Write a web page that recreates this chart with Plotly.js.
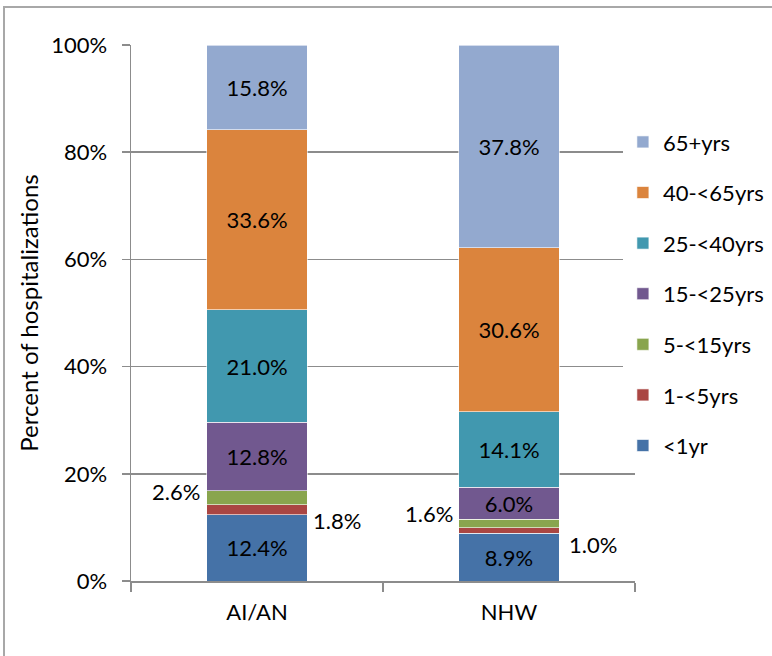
<!DOCTYPE html>
<html>
<head>
<meta charset="utf-8">
<script src="https://cdn.plot.ly/plotly-3.0.1.min.js"></script>
<style>
  html, body { margin: 0; padding: 0; background: #fff; }
  #wrap { position: relative; width: 772px; height: 656px; }
  #chart { width: 772px; height: 656px; }
  #frame { position: absolute; left: 3px; top: 6px; right: -10px; bottom: -10px;
           border-top: 2px solid #A8A8A8; border-left: 2px solid #A8A8A8; pointer-events: none; }
</style>
</head>
<body>
<div id="wrap"><div id="chart"></div><div id="frame"></div></div>
<script>
const categories = ["AI/AN", "NHW"];
const seriesNames = ["<1yr", "1-<5yrs", "5-<15yrs", "15-<25yrs", "25-<40yrs", "40-<65yrs", "65+yrs"];
const lt1yr   = [12.4, 8.9];
const y1to5   = [1.8, 1.0];
const y5to15  = [2.6, 1.6];
const y15to25 = [12.8, 6.0];
const y25to40 = [21.0, 14.1];
const y40to65 = [33.6, 30.6];
const y65plus = [15.8, 37.8];
const yTickVals = [0, 20, 40, 60, 80, 100];
const yTickText = ["0%", "20%", "40%", "60%", "80%", "100%"];

const seriesValues = [lt1yr, y1to5, y5to15, y15to25, y25to40, y40to65, y65plus];
const colors = ["#4572A7", "#AA4643", "#89A54E", "#71588F", "#4198AF", "#DB843D", "#93A9CF"];
const outsideSeries = {1: "right", 2: "left"};
const FONT = "Lato, Carlito, Calibri, sans-serif";

const traces = seriesValues.map((vals, i) => ({
  type: "bar",
  name: seriesNames[i],
  x: categories,
  y: vals,
  legendgroup: "g" + i,
  legendrank: 100 - i,
  marker: { color: colors[i], line: { color: "rgba(255,255,255,0.6)", width: 1 } },
  text: vals.map(v => (i in outsideSeries) ? "" : v.toFixed(1) + "%"),
  textposition: "inside",
  insidetextanchor: "middle",
  constraintext: "none",
  textangle: 0,
  textfont: { family: FONT, size: 22, color: "#000" },
  hoverinfo: "none"
}));

// outside labels for the thin segments
const annotations = [];
const shifts = {
  1: [{xs: 4, ys: -11}, {xs: 8, ys: -14}],
  2: [{xs: -5, ys: 6}, {xs: -4, ys: 10}]
};
categories.forEach((c, ci) => {
  let cum = 0;
  seriesValues.forEach((vals, si) => {
    const mid = cum + vals[ci] / 2;
    cum += vals[ci];
    if (si in outsideSeries) {
      const side = outsideSeries[si];
      annotations.push({
        x: ci + (side === "right" ? 0.198 : -0.198),
        y: mid,
        xref: "x", yref: "y",
        text: vals[ci].toFixed(1) + "%",
        showarrow: false,
        xanchor: side === "right" ? "left" : "right",
        yanchor: "middle",
        xshift: shifts[si][ci].xs,
        yshift: shifts[si][ci].ys,
        font: { family: FONT, size: 22, color: "#000" }
      });
    }
  });
});

const layout = {
  width: 772, height: 656,
  margin: { l: 131, r: 137, t: 45, b: 75, autoexpand: false },
  paper_bgcolor: "#fff", plot_bgcolor: "#fff",
  barmode: "stack",
  bargap: 0.603,
  font: { family: FONT, size: 22, color: "#000" },
  showlegend: true,
  legend: {
    traceorder: "grouped",
    tracegroupgap: 19,
    x: 0.976, xanchor: "left", y: 0.858, yanchor: "top",
    font: { family: FONT, size: 22, color: "#000" },
    itemclick: false
  },
  xaxis: {
    type: "category",
    range: [-0.5, 1.5],
    showgrid: false,
    showline: true, linecolor: "#8C8C8C", linewidth: 1.5,
    ticks: "outside", tickson: "boundaries", ticklen: 9, tickcolor: "#8C8C8C", tickwidth: 1.5,
    ticklabelstandoff: 11,
    tickfont: { family: FONT, size: 22 },
    zeroline: false
  },
  yaxis: {
    range: [0, 100],
    tickvals: yTickVals, ticktext: yTickText,
    showgrid: true, gridcolor: "#8C8C8C", gridwidth: 1.5,
    showline: true, linecolor: "#8C8C8C", linewidth: 1.5,
    ticks: "outside", ticklen: 8, tickcolor: "#8C8C8C", tickwidth: 1.5,
    ticklabelstandoff: 10,
    tickfont: { family: FONT, size: 22 },
    zeroline: false,
    title: { text: "Percent of hospitalizations", font: { family: FONT, size: 24 }, standoff: 6 }
  },
  annotations: annotations
};

Plotly.newPlot("chart", traces, layout, { staticPlot: true, displayModeBar: false });
</script>
</body>
</html>
